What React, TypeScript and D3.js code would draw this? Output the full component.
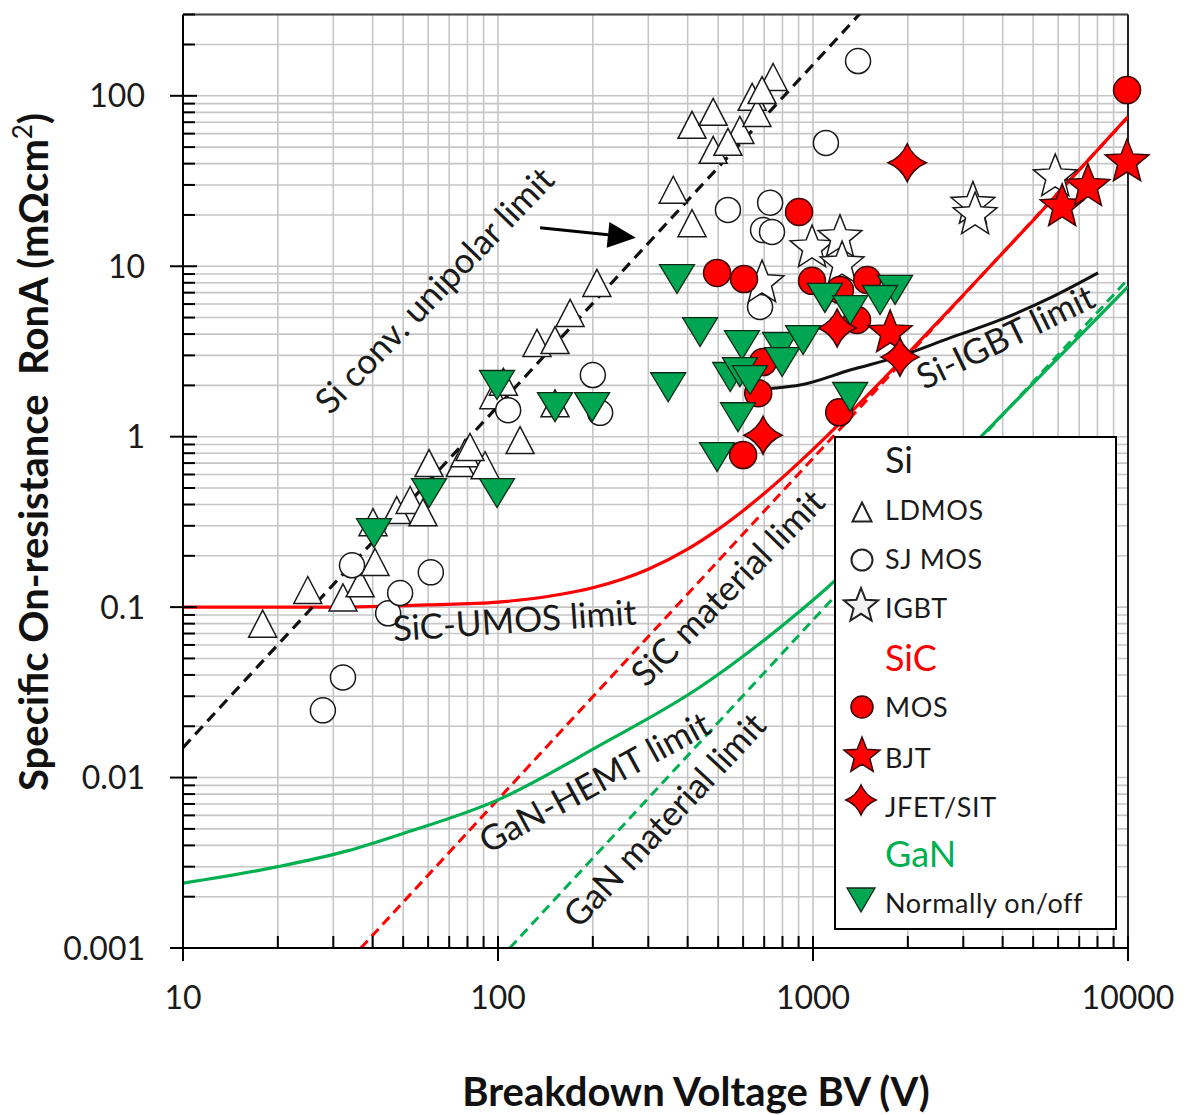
import React from 'react';
import * as d3 from 'd3';

// ---------- data (BV in V, RonA in mOhm cm^2) ----------
const xTickValues = [10, 100, 1000, 10000];
const xTickLabels = ['10', '100', '1000', '10000'];
const yTickValues = [100, 10, 1, 0.1, 0.01, 0.001];
const yTickLabels = ['100', '10', '1', '0.1', '0.01', '0.001'];

const siLdmos: [number, number][] = [
  [17.9, 0.080], [24.9, 0.126], [32.2, 0.114], [36.5, 0.138], [40.7, 0.184], [40.1, 0.315],
  [47.7, 0.371], [52.6, 0.425], [57.8, 0.36], [60.4, 0.70], [75.9, 0.70], [78.5, 0.80],
  [91, 0.68], [97, 1.75], [104, 2.1], [117.5, 0.955], [81.5, 0.87], [133, 3.55], [151.7, 3.69],
  [169.4, 5.32], [206, 7.98], [151.7, 1.57], [360, 28.1], [413, 17.9], [482, 48.2], [413, 67.6],
  [482, 80.6], [586, 63.1], [641, 98.7], [747, 129], [664, 79.4], [689, 108], [537, 53.7],
];
const siSjMos: [number, number][] = [
  [27.8, 0.0248], [32.2, 0.0387], [34.4, 0.176], [44.8, 0.092], [48.9, 0.121], [61.2, 0.160],
  [107.7, 1.43], [200, 2.30], [211, 1.38], [537, 21.4], [731, 23.6], [694, 16.3], [741, 15.9],
  [679, 5.77], [1099, 52.9], [1390, 160],
];
const siIgbtPts: [number, number][] = [
  [689, 7.98], [993, 12.8], [1218, 14.7], [1237, 10.3], [3219, 23], [3270, 20], [5875, 33.4],
];
const sicMos: [number, number][] = [
  [903, 20.8], [496, 9.14], [604, 8.41], [993, 8.21], [1218, 7.26], [1486, 8.31], [1380, 4.84],
  [694, 2.74], [670, 1.80], [1211, 1.39], [600, 0.78], [9930, 108],
];
const sicBjt: [number, number][] = [[1758, 4.06], [6180, 22.3], [7460, 29.3], [9930, 40.9]];
const sicJfet: [number, number][] = [[1991, 40.5], [1193, 4.34], [1888, 2.93], [694, 1.02]];
const ganDevices: [number, number][] = [
  [40.4, 0.272], [60.4, 0.467], [99.3, 0.467], [99.3, 2.01], [151.7, 1.49], [199, 1.49],
  [347, 1.95], [370, 8.41], [438, 4.11], [546, 2.24], [595, 3.45], [786, 3.36], [798, 2.74],
  [586, 2.39], [631, 2.15], [578, 1.30], [496, 0.759], [930, 3.69], [1091, 6.52], [1312, 5.53],
  [1822, 7.26], [1633, 6.34], [1312, 1.71],
];

// limit lines
const siUnipolarLimit: [number, number][] = [[10, 0.015], [1409, 303]];
const sicMaterialLimit: [number, number][] = [[36.7, 0.001], [10000, 75]];
const ganMaterialLimit: [number, number][] = [[109, 0.001], [10000, 8.4]];
const sicUmosLimit: [number, number][] = [
  [10, 0.1], [30, 0.1], [60, 0.103], [100, 0.107], [150, 0.117], [200, 0.13], [300, 0.167],
  [400, 0.219], [500, 0.286], [700, 0.464], [1000, 0.842], [1500, 1.77], [2000, 3.07],
  [3000, 6.78], [5000, 18.6], [10000, 75.5],
];
const ganHemtLimit: [number, number][] = [
  [10, 0.0024], [20, 0.0030], [33, 0.0037], [50, 0.0047], [100, 0.0074], [211, 0.0155],
  [438, 0.034], [714, 0.066], [1109, 0.13], [2000, 0.37], [3500, 1.05], [6000, 2.9], [10000, 7.6],
];
const siIgbtLimit: [number, number][] = [
  [690, 1.90], [760, 1.93], [910, 2.01], [1312, 2.46], [1888, 2.97], [2723, 3.80],
  [3926, 4.84], [5663, 6.52], [8035, 9.14],
];

const annotations = [
  { text: 'Si conv. unipolar limit', v: 64, r: 7.0, rot: -46 },
  { text: 'SiC-UMOS limit', v: 113, r: 0.0797, rot: -4 },
  { text: 'SiC material limit', v: 546, r: 0.1256, rot: -45.5 },
  { text: 'GaN-HEMT limit', v: 205, r: 0.009, rot: -28.5 },
  { text: 'GaN material limit', v: 344, r: 0.00546, rot: -47 },
  { text: 'Si-IGBT limit', v: 4130, r: 3.69, rot: -26 },
];
const arrowFrom: [number, number] = [136, 16.8];
const arrowTo: [number, number] = [274, 14.7];

// ---------- styles ----------
const RED = '#ff0000';
const GREEN = '#00b050';
const GREEN_FILL = '#00a651';
const FONT = "Lato, 'Open Sans', sans-serif";

const triUp = (w: number, h: number) => `M0,${-h / 2}L${w / 2},${h / 2}L${-w / 2},${h / 2}Z`;
const triDown = (w: number, h: number) => `M${-w / 2},${-h / 2}L${w / 2},${-h / 2}L0,${h / 2}Z`;
const star5 = (ro: number, ri: number) => {
  const p: string[] = [];
  for (let i = 0; i < 10; i++) {
    const a = (-90 + i * 36) * Math.PI / 180;
    const rr = i % 2 ? ri : ro;
    p.push(`${(rr * Math.cos(a)).toFixed(2)},${(rr * Math.sin(a)).toFixed(2)}`);
  }
  return 'M' + p.join('L') + 'Z';
};
const star4 = (R: number) => {
  const c = R * 0.3;
  return `M0,${-R}Q${c},${-c} ${R},0Q${c},${c} 0,${R}Q${-c},${c} ${-R},0Q${-c},${-c} 0,${-R}Z`;
};

export default function App() {
  const W = 1187, H = 1115;
  const L = 183, Rr = 1128, T = 14.5, B = 948;
  const x = d3.scaleLog().domain([10, 10000]).range([L, Rr]);
  const y = d3.scaleLog().domain([0.001, 300]).range([B, T]);

  const xGrid: number[] = [];
  [10, 100, 1000].forEach(d => { for (let k = 1; k <= 9; k++) xGrid.push(k * d); });
  xGrid.push(10000);
  const yGrid: number[] = [];
  [0.001, 0.01, 0.1, 1, 10, 100].forEach(d => {
    for (let k = 1; k <= 9; k++) { const v = +(k * d).toPrecision(3); if (v <= 300) yGrid.push(v); }
  });
  const isMajor = (v: number) => Math.abs(Math.log10(v) - Math.round(Math.log10(v))) < 1e-6;

  const straight = d3.line<[number, number]>().x(d => x(d[0])).y(d => y(d[1]));
  const smooth = d3.line<[number, number]>().x(d => x(d[0])).y(d => y(d[1])).curve(d3.curveMonotoneX);

  const tr = (d: [number, number]) => `translate(${x(d[0])},${y(d[1])})`;

  // arrow geometry
  const ax1 = x(arrowFrom[0]), ay1 = y(arrowFrom[1]);
  const ax2 = x(arrowTo[0]), ay2 = y(arrowTo[1]);
  const ang = Math.atan2(ay2 - ay1, ax2 - ax1);
  const hl = 28, hw = 13;
  const bx = ax2 - hl * Math.cos(ang), by = ay2 - hl * Math.sin(ang);
  const head = `M${ax2},${ay2}L${bx + hw * Math.sin(ang)},${by - hw * Math.cos(ang)}L${bx - hw * Math.sin(ang)},${by + hw * Math.cos(ang)}Z`;

  const whiteStyle = { fill: '#ffffff', stroke: '#1a1a1a', strokeWidth: 1.5 };
  const redStyle = { fill: RED, stroke: '#3a0000', strokeWidth: 1.5 };
  const greenStyle = { fill: GREEN_FILL, stroke: '#0d2a14', strokeWidth: 1.3 };

  const legendX = 835, legendY = 437, legendW = 281, legendH = 492;
  const lt = 885, ls = 862;

  return (
    <svg width={W} height={H} style={{ position: 'absolute', left: 0, top: 0, background: '#fff' }}
      fontFamily={FONT}>
      <defs>
        <clipPath id="plotClip">
          <rect x={L} y={T} width={Rr - L} height={B - T} />
        </clipPath>
      </defs>
      <rect x={0} y={0} width={W} height={H} fill="#fff" />
      {/* grid */}
      <g stroke="#c6c6c6" strokeWidth={1.6}>
        {xGrid.filter(v => v > 10 && v < 10000).map(v => (
          <line key={'gx' + v} x1={x(v)} x2={x(v)} y1={T} y2={B} />
        ))}
        {yGrid.filter(v => v > 0.001).map(v => (
          <line key={'gy' + v} x1={L} x2={Rr} y1={y(v)} y2={y(v)} />
        ))}
      </g>
      {/* frame */}
      <line x1={L} x2={Rr} y1={T} y2={T} stroke="#444" strokeWidth={2} />
      <line x1={Rr} x2={Rr} y1={T} y2={B} stroke="#222" strokeWidth={2} />

      {/* limit lines */}
      <g clipPath="url(#plotClip)" fill="none">
        <path d={straight(sicMaterialLimit) || ''} stroke={RED} strokeWidth={3} strokeDasharray="10,6" />
        <path d={straight(ganMaterialLimit) || ''} stroke={GREEN} strokeWidth={3} strokeDasharray="10,6" />
        <path d={smooth(ganHemtLimit) || ''} stroke={GREEN} strokeWidth={3.2} />
        <path d={smooth(sicUmosLimit) || ''} stroke={RED} strokeWidth={3.2} />
        <path d={straight(siUnipolarLimit) || ''} stroke="#111" strokeWidth={3.2} strokeDasharray="11,7" />
        <path d={smooth(siIgbtLimit) || ''} stroke="#111" strokeWidth={3} />
      </g>

      {/* markers */}
      <g>
        {siLdmos.map((d, i) => <path key={'ld' + i} d={triUp(28, 27)} transform={tr(d)} style={whiteStyle} />)}
        {siSjMos.map((d, i) => <circle key={'sj' + i} r={12.5} transform={tr(d)} style={whiteStyle} />)}
        {siIgbtPts.map((d, i) => <path key={'ig' + i} d={star5(23, 10)} transform={tr(d)} style={whiteStyle} />)}
        {sicMos.map((d, i) => <circle key={'sm' + i} r={13.5} transform={tr(d)} style={redStyle} />)}
        {sicBjt.map((d, i) => <path key={'bj' + i} d={star5(23, 10)} transform={tr(d)} style={redStyle} />)}
        {sicJfet.map((d, i) => <path key={'jf' + i} d={star4(19)} transform={tr(d)} style={redStyle} />)}
        {ganDevices.map((d, i) => <path key={'gn' + i} d={triDown(35, 29)} transform={tr(d)} style={greenStyle} />)}
      </g>

      {/* annotations */}
      <g fill="#1a1a1a" fontSize={35}>
        {annotations.map(a => (
          <text key={a.text} textAnchor="middle" dominantBaseline="middle"
            transform={`translate(${x(a.v)},${y(a.r)}) rotate(${a.rot})`}>{a.text}</text>
        ))}
      </g>
      <line x1={ax1} y1={ay1} x2={bx} y2={by} stroke="#000" strokeWidth={3} />
      <path d={head} fill="#000" />

      {/* axes */}
      <line x1={L} x2={L} y1={T} y2={B} stroke="#000" strokeWidth={2} />
      <line x1={L} x2={Rr} y1={B} y2={B} stroke="#000" strokeWidth={2} />
      <g stroke="#000" strokeWidth={2}>
        {yGrid.map(v => isMajor(v)
          ? <line key={'ty' + v} x1={L - 13} x2={L + 14} y1={y(v)} y2={y(v)} />
          : <line key={'ty' + v} x1={L} x2={L + 12} y1={y(v)} y2={y(v)} />)}
        {xGrid.map(v => isMajor(v)
          ? <line key={'tx' + v} x1={x(v)} x2={x(v)} y1={B - 12} y2={B + 13} />
          : <line key={'tx' + v} x1={x(v)} x2={x(v)} y1={B - 12} y2={B} />)}
      </g>
      <g fontSize={32} fill="#1a1a1a">
        {yTickValues.map((v, i) => (
          <text key={'yl' + v} x={145} y={y(v)} dy="0.36em" textAnchor="end">{yTickLabels[i]}</text>
        ))}
        {xTickValues.map((v, i) => (
          <text key={'xl' + v} x={x(v)} y={1009} textAnchor="middle">{xTickLabels[i]}</text>
        ))}
      </g>
      {/* axis titles */}
      <text x={696} y={1106} textAnchor="middle" fontSize={40} fontWeight="bold" fill="#111">Breakdown Voltage BV (V)</text>
      <text transform="translate(48,452) rotate(-90)" textAnchor="middle" fontSize={40} fontWeight="bold" fill="#111">
        {'Specific On-resistance\u00A0\u00A0RonA (m\u03A9cm'}
        <tspan fontSize={26} fontWeight="normal" dy={-16}>2</tspan>
        <tspan dy={16}>)</tspan>
      </text>

      {/* legend */}
      <rect x={legendX} y={legendY} width={legendW} height={legendH} fill="#fff" stroke="#000" strokeWidth={2} />
      <g fontSize={27} fill="#1a1a1a" letterSpacing={0.6}>
        <text x={lt} y={473} fontSize={36} letterSpacing={0}>Si</text>
        <text x={lt} y={520}>LDMOS</text>
        <text x={lt} y={569}>SJ MOS</text>
        <text x={lt} y={618}>IGBT</text>
        <text x={lt} y={671} fontSize={36} fill={RED} letterSpacing={0}>SiC</text>
        <text x={lt} y={717}>MOS</text>
        <text x={lt} y={768}>BJT</text>
        <text x={lt} y={817}>JFET/SIT</text>
        <text x={lt} y={867} fontSize={36} fill={GREEN} letterSpacing={0}>GaN</text>
        <text x={lt} y={913}>Normally on/off</text>
      </g>
      <path d={triUp(19, 19)} transform={`translate(${ls},${512})`} fill="#fff" stroke="#222" strokeWidth={2} />
      <circle cx={ls} cy={560} r={10.5} fill="#fff" stroke="#222" strokeWidth={2} />
      <path d={star5(18, 7.8)} transform={`translate(${ls - 1},${606})`} fill="#f2f2f2" stroke="#222" strokeWidth={2} />
      <circle cx={ls} cy={707} r={11} style={redStyle} />
      <path d={star5(19, 8.2)} transform={`translate(${ls},${756})`} style={redStyle} />
      <path d={star4(15)} transform={`translate(${ls - 1},${800})`} style={redStyle} />
      <path d={triDown(28, 24)} transform={`translate(${ls - 1},${900})`} style={greenStyle} />
    </svg>
  );
}
